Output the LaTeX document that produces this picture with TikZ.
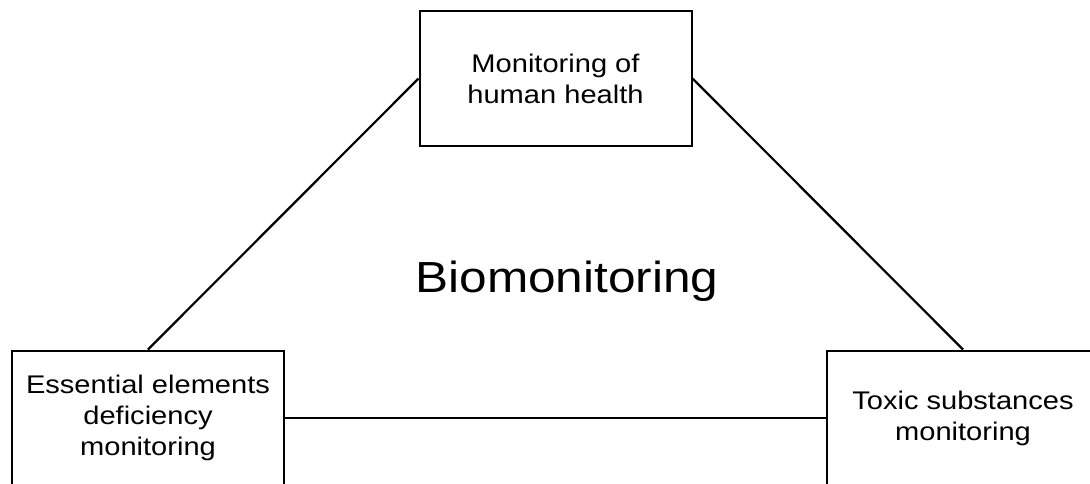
\documentclass[tikz,border=0pt]{standalone}
\usepackage{fontspec}
\setmainfont[FakeStretch=1.14]{Liberation Sans}
\usepackage{tikz}
\usetikzlibrary{positioning}

\begin{document}
\begin{tikzpicture}[x=1pt,y=-1pt]
    \useasboundingbox (0,0) rectangle (1090,483);
    \begin{scope}[every node/.style={rectangle,draw,line width=2pt,align=center,
            minimum width=272pt,minimum height=135pt,inner sep=0pt,
            font=\fontsize{25.5}{31}\selectfont}]
        \node(health) at (555.5,78.5) {Monitoring of\\human health};
        \node(essential) at (148,418) {Essential elements\\deficiency\\monitoring};
        \node(toxic) at (963,418) {Toxic substances\\monitoring};
    \end{scope}
    \node(bio) at (567,281) {\fontsize{43.5}{50}\selectfont Biomonitoring};
    %Lines
    \begin{scope}[line width=2.2pt]
        \draw (health.west) -- (essential.north);
        \draw (health.east) -- (toxic.north);
        \draw (essential.east) -- (toxic.west);
    \end{scope}
\end{tikzpicture}
\end{document}
